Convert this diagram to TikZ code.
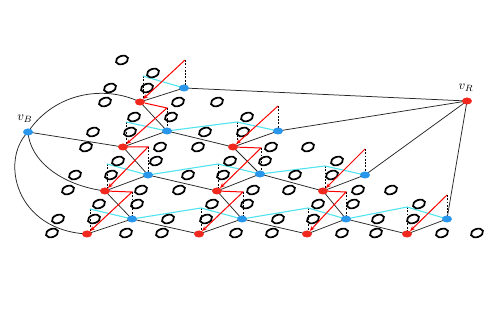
\documentclass[tikz,border=0pt]{standalone}
\usetikzlibrary{shapes.geometric,backgrounds,arrows.meta}
\definecolor{rnode}{RGB}{240,40,30}
\definecolor{bnode}{RGB}{40,150,235}
\definecolor{cyl}{RGB}{80,228,240}
\begin{document}
\begin{tikzpicture}[x=1pt,y=-1pt,
  rn/.style={ellipse, fill=rnode, minimum width=10pt, minimum height=7pt, inner sep=0pt},
  bn/.style={ellipse, fill=bnode, minimum width=10pt, minimum height=7pt, inner sep=0pt},
  blk/.style={draw=black!85, line width=0.75pt},
  redarr/.style={draw=red, line width=1pt, -{Stealth[length=5pt,width=4pt]}},
  cyline/.style={draw=cyl, line width=1.1pt},
  dsh/.style={draw=black, dash pattern=on 1.8pt off 1.5pt, line width=0.8pt},
  site/.style={line width=1.7pt},
  lbl/.style={inner sep=1pt, scale=1.3}
]
\useasboundingbox (0,0) rectangle (499,334);

% empty lattice sites
\foreach \x/\y in {122/60, 153/73, 110/88, 147/88,
  105/102, 178/102, 217/102,
  134/117, 171/117, 247/117,
  93/132, 130/132, 205/132, 243/132,
  86/147, 160/147, 198/147, 271/147, 308/147,
  118/161, 156/161, 230/161, 265/161, 337/161,
  75/175, 111/175, 188/175, 223/175, 295/175, 332/175,
  68/190, 141/190, 179/190, 253/190, 289/190, 358/190, 391/190,
  99/204, 137/204, 212/204, 247/204, 318/204, 353/204, 419/204,
  58/219, 94/219, 168/219, 206/219, 278/219, 313/219, 378/219, 413/219,
  52/233, 126/233, 162/233, 236/233, 272/233, 342/233, 376/233, 442/233, 477/233}
  \draw[site, shift={(\x,\y)}, rotate=20] (0,0) ellipse [x radius=6.3pt, y radius=4.1pt];

% red nodes
\node[rn] (ra1) at (140,102) {};
\node[rn] (rb1) at (123,147) {};
\node[rn] (rb2) at (233,147) {};
\node[rn] (rc1) at (105,191) {};
\node[rn] (rc2) at (217,191) {};
\node[rn] (rc3) at (323,191) {};
\node[rn] (rd1) at (87,234) {};
\node[rn] (rd2) at (199,234) {};
\node[rn] (rd3) at (307,234) {};
\node[rn] (rd4) at (407,234) {};
\node[rn] (vR) at (467,101) {};

% blue nodes
\node[bn] (ba1) at (184,88) {};
\node[bn] (bb1) at (167,131) {};
\node[bn] (bb2) at (278,131) {};
\node[bn] (bc1) at (148,175) {};
\node[bn] (bc2) at (260,174) {};
\node[bn] (bc3) at (365,175) {};
\node[bn] (bd1) at (132,219) {};
\node[bn] (bd2) at (242,219) {};
\node[bn] (bd3) at (346,219) {};
\node[bn] (bd4) at (447,219) {};
\node[bn] (vB) at (28,132) {};

\node[lbl] (lB) at (25,119) {$v_B$};
\node[lbl] (lR) at (466,88) {$v_R$};

% points above blue nodes (red bends)
\coordinate (pa1) at (185,60);
\coordinate (pb1) at (167,108);
\coordinate (pb2) at (278,106);
\coordinate (pc1) at (148,147);
\coordinate (pc2) at (261,148);
\coordinate (pc3) at (365,149);
\coordinate (pd1) at (132,192);
\coordinate (pd2) at (243,192);
\coordinate (pd3) at (346,192);
\coordinate (pd4) at (447,195);

% points above red nodes (cyan bends)
\coordinate (qa1) at (143,76);
\coordinate (qb1) at (126,122);
\coordinate (qb2) at (237,122);
\coordinate (qc1) at (107,164);
\coordinate (qc2) at (218,164);
\coordinate (qc3) at (325,166);
\coordinate (qd1) at (90,209);
\coordinate (qd2) at (201,208);
\coordinate (qd3) at (308,208);
\coordinate (qd4) at (407,207);

\begin{scope}[on background layer]
  % black connections from v_B
  \draw[blk] (vB.center) .. controls (55,92) and (105,85) .. (ra1.center);
  \draw[blk] (vB.center) -- (rb1.center);
  \draw[blk] (vB.center) .. controls (30,160) and (60,185) .. (rc1.center);
  \draw[blk] (vB.center) .. controls (0,160) and (15,230) .. (rd1.center);
  % rows
  \draw[blk] (ra1.center) -- (ba1.center) -- (vR.center);
  \draw[blk] (rb1.center) -- (bb1.center) -- (rb2.center) -- (bb2.center) -- (vR.center);
  \draw[blk] (rc1.center) -- (bc1.center) -- (rc2.center) -- (bc2.center) -- (rc3.center) -- (bc3.center) -- (vR.center);
  \draw[blk] (rd1.center) -- (bd1.center) -- (rd2.center) -- (bd2.center) -- (rd3.center) -- (bd3.center) -- (rd4.center) -- (bd4.center) -- (vR.center);
  % diagonals
  \draw[blk] (ra1.center) -- (bb1.center);
  \draw[blk] (rb1.center) -- (bc1.center);
  \draw[blk] (rb2.center) -- (bc2.center);
  \draw[blk] (rc1.center) -- (bd1.center);
  \draw[blk] (rc2.center) -- (bd2.center);
  \draw[blk] (rc3.center) -- (bd3.center);
  % dashed drops to blue nodes
  \foreach \p/\b in {pa1/ba1, pb1/bb1, pb2/bb2, pc1/bc1, pc2/bc2, pc3/bc3, pd1/bd1, pd2/bd2, pd3/bd3, pd4/bd4}
    \draw[dsh] (\p) -- (\p |- \b.center);
  % dashed drops towards red nodes
  \foreach \q/\r in {qa1/ra1, qb1/rb1, qb2/rb2, qc1/rc1, qc2/rc2, qc3/rc3, qd1/rd1, qd2/rd2, qd3/rd3, qd4/rd4}
    \draw[dsh] (\q) -- ([yshift=3pt]\q |- \r.center);
  % cyan rows
  \draw[cyline] (qa1) -- (ba1.center);
  \draw[cyline] (qb1) -- (bb1.center) -- (qb2) -- (bb2.center);
  \draw[cyline] (qc1) -- (bc1.center) -- (qc2) -- (bc2.center) -- (qc3) -- (bc3.center);
  \draw[cyline] (qd1) -- (bd1.center) -- (qd2) -- (bd2.center) -- (qd3) -- (bd3.center) -- (qd4) -- (bd4.center);
\end{scope}

% red arrows
\draw[redarr] (pa1) -- (ra1);
\draw[redarr] (ra1) -- (pb1) -- (rb1);
\draw[redarr] (pb2) -- (rb2);
\draw[redarr] (rb1) -- (pc1) -- (rc1);
\draw[redarr] (rb2) -- (pc2) -- (rc2);
\draw[redarr] (pc3) -- (rc3);
\draw[redarr] (rc1) -- (pd1) -- (rd1);
\draw[redarr] (rc2) -- (pd2) -- (rd2);
\draw[redarr] (rc3) -- (pd3) -- (rd3);
\draw[redarr] (pd4) -- (rd4);
\end{tikzpicture}
\end{document}
